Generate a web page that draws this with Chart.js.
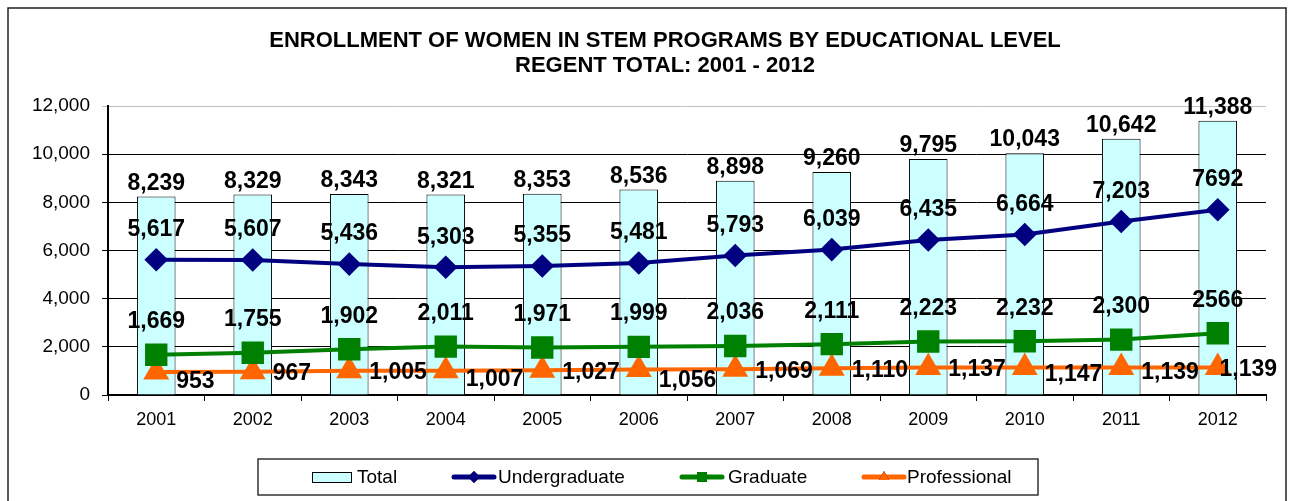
<!DOCTYPE html>
<html>
<head>
<meta charset="utf-8">
<script src="https://cdn.jsdelivr.net/npm/chart.js@4/dist/chart.umd.min.js"></script>
<style>
  body { margin: 0; background: #fff; }
</style>
</head>
<body>
<canvas id="chart" width="1289" height="501"></canvas>
<script>
const years = ['2001', '2002', '2003', '2004', '2005', '2006', '2007', '2008', '2009', '2010', '2011', '2012'];
const total = [8239, 8329, 8343, 8321, 8353, 8536, 8898, 9260, 9795, 10043, 10642, 11388];
const undergraduate = [5617, 5607, 5436, 5303, 5355, 5481, 5793, 6039, 6435, 6664, 7203, 7692];
const graduate = [1669, 1755, 1902, 2011, 1971, 1999, 2036, 2111, 2223, 2232, 2300, 2566];
const professional = [953, 967, 1005, 1007, 1027, 1056, 1069, 1110, 1137, 1147, 1139, 1139];
const yTicks = [0, 2000, 4000, 6000, 8000, 10000, 12000];

const titleLines = ['ENROLLMENT OF WOMEN IN STEM PROGRAMS BY EDUCATIONAL LEVEL', 'REGENT TOTAL: 2001 - 2012'];
const FONT = 'Arial, "Liberation Sans", sans-serif';

const fmt = v => v.toLocaleString('en-US');

// frame, title, value labels and the boxed legend
const decorations = {
  id: 'decorations',
  beforeDraw(chart) {
    const ctx = chart.ctx;
    ctx.save();
    ctx.fillStyle = '#fff';
    ctx.fillRect(0, 0, chart.width, chart.height);
    ctx.strokeStyle = '#222';
    ctx.lineWidth = 1.5;
    ctx.strokeRect(8, 8, 1278, 520);
    ctx.restore();
  },
  afterDatasetsDraw(chart) {
    const ctx = chart.ctx;
    ctx.save();
    ctx.fillStyle = '#000';
    ctx.font = 'bold 23px ' + FONT;
    ctx.textBaseline = 'middle';
    chart.data.datasets.forEach((ds, di) => {
      const meta = chart.getDatasetMeta(di);
      const lab = ds.valueLabel;
      meta.data.forEach((el, i) => {
        const v = ds.data[i];
        const txt = (lab.noComma || []).includes(i) ? String(v) : fmt(v);
        const w = ctx.measureText(txt).width;
        let x, y = el.y + lab.dy + (lab.dyAt ? lab.dyAt[i] : 0);
        if (lab.align === 'left') {
          x = el.x + lab.dx;
        } else {
          x = el.x - w / 2 + lab.dx;
        }
        if (x + w > 1277) x = 1277 - w;
        ctx.textAlign = 'left';
        ctx.fillText(txt, x, y);
      });
    });
    ctx.restore();
  },
  afterDraw(chart) {
    const ctx = chart.ctx;
    ctx.save();
    ctx.fillStyle = '#000';
    ctx.textAlign = 'center';
    ctx.textBaseline = 'middle';
    ctx.font = 'bold 22px ' + FONT;
    ctx.fillText(titleLines[0], 665, 41);
    ctx.fillText(titleLines[1], 665, 66);

    // legend
    ctx.strokeStyle = '#333';
    ctx.lineWidth = 1.5;
    ctx.strokeRect(258, 459, 780, 36);
    const ds = chart.data.datasets;
    const cy = 477;
    const items = [
      { x: 312, text: 357 },
      { x: 452, text: 498 },
      { x: 680, text: 728 },
      { x: 862, text: 907 }
    ];
    ctx.font = '19px ' + FONT;
    ctx.textAlign = 'left';
    items.forEach((it, k) => {
      const d = ds[k];
      if (d.type === 'bar') {
        ctx.fillStyle = d.backgroundColor;
        ctx.fillRect(it.x, cy - 5, 40, 11);
        ctx.strokeStyle = '#000';
        ctx.lineWidth = 1;
        ctx.strokeRect(it.x + 0.5, cy - 4.5, 39, 10);
      } else {
        ctx.strokeStyle = d.borderColor;
        ctx.lineWidth = 5;
        ctx.lineCap = 'round';
        ctx.beginPath();
        ctx.moveTo(it.x + 2, cy);
        ctx.lineTo(it.x + 42, cy);
        ctx.stroke();
        Chart.helpers.drawPoint(ctx, {
          pointStyle: d.pointStyle,
          radius: d.pointStyle === 'rect' ? 7 : 6,
          borderWidth: 0,
          rotation: 0
        }, it.x + 22, cy);
        ctx.fillStyle = d.pointBackgroundColor;
        ctx.fill();
      }
      ctx.fillStyle = '#000';
      ctx.fillText(d.label, it.text, cy + 1);
    });
    ctx.restore();
  }
};

new Chart(document.getElementById('chart'), {
  data: {
    labels: years,
    datasets: [
      {
        type: 'bar',
        label: 'Total',
        data: total,
        backgroundColor: '#CCFFFF',
        borderColor: '#000',
        borderWidth: 1,
        barPercentage: 0.4,
        categoryPercentage: 1,
        order: 4,
        valueLabel: { align: 'center', dx: 0, dy: -13 }
      },
      {
        type: 'line',
        label: 'Undergraduate',
        data: undergraduate,
        borderColor: '#000080',
        backgroundColor: '#000080',
        pointBackgroundColor: '#000080',
        pointBorderColor: '#000080',
        borderWidth: 4,
        pointStyle: 'rectRot',
        pointRadius: 9,
        order: 1,
        valueLabel: { align: 'center', dx: 0, dy: -30, noComma: [11] }
      },
      {
        type: 'line',
        label: 'Graduate',
        data: graduate,
        borderColor: '#008000',
        backgroundColor: '#008000',
        pointBackgroundColor: '#008000',
        pointBorderColor: '#008000',
        borderWidth: 4,
        pointStyle: 'rect',
        pointRadius: 13,
        order: 2,
        valueLabel: { align: 'center', dx: 0, dy: -33, noComma: [11] }
      },
      {
        type: 'line',
        label: 'Professional',
        data: professional,
        borderColor: '#FF6600',
        backgroundColor: '#FF6600',
        pointBackgroundColor: '#FF6600',
        pointBorderColor: '#FF6600',
        borderWidth: 4,
        pointStyle: 'triangle',
        pointRadius: 11,
        order: 3,
        valueLabel: { align: 'left', dx: 20, dy: 2, dyAt: [8, 0, 0, 7, 0, 9, 0, 0, 0, 5, 3, 0] }
      }
    ]
  },
  options: {
    responsive: false,
    devicePixelRatio: 1,
    animation: false,
    layout: { padding: { top: 106, right: 23, left: 0, bottom: 0 } },
    plugins: {
      legend: { display: false },
      title: { display: false },
      tooltip: { enabled: false }
    },
    scales: {
      x: {
        afterFit: s => { s.height = 106; },
        border: { color: '#000', width: 2 },
        grid: { offset: true, drawOnChartArea: false, color: '#000', tickLength: 6 },
        ticks: { color: '#000', font: { family: FONT, size: 18 }, padding: 8 }
      },
      y: {
        min: 0,
        max: 12000,
        afterFit: s => { s.width = 108; },
        afterBuildTicks: s => { s.ticks = yTicks.map(v => ({ value: v })); },
        border: { color: '#000', width: 2 },
        grid: {
          color: c => (c.tick && c.tick.value === 12000 ? '#c0c0c0' : '#000'),
          lineWidth: 1,
          tickLength: 6
        },
        ticks: {
          color: '#000',
          font: { family: FONT, size: 19 },
          padding: 12,
          callback: v => fmt(v)
        }
      }
    }
  },
  plugins: [decorations]
});
</script>
</body>
</html>
